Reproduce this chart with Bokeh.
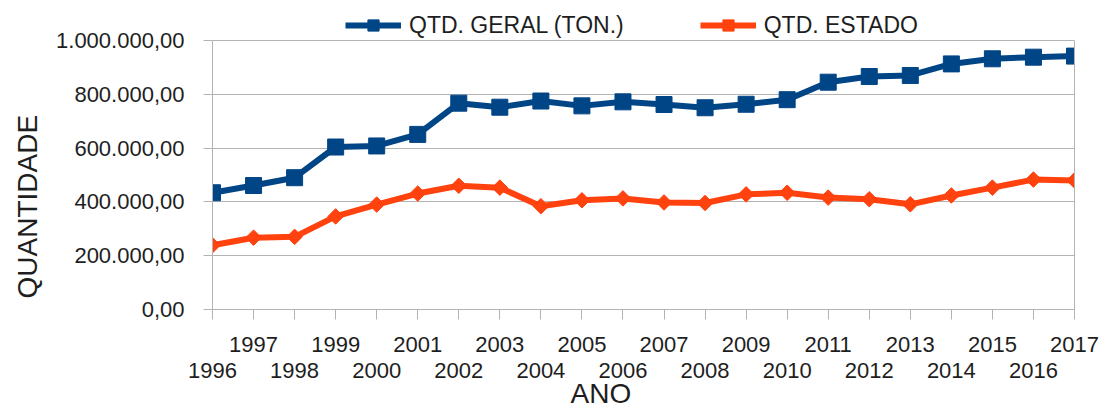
import math
from bokeh.plotting import figure
from bokeh.models import (Range1d, FixedTicker, LinearAxis, Legend, LegendItem,
                          Title)
from bokeh.embed import file_html
from bokeh.resources import INLINE

# ---- data ----
years = [1996, 1997, 1998, 1999, 2000, 2001, 2002, 2003, 2004, 2005, 2006,
         2007, 2008, 2009, 2010, 2011, 2012, 2013, 2014, 2015, 2016, 2017]
geral = [434000, 461000, 490000, 604000, 608000, 651000, 767000, 752000,
         775000, 757000, 772000, 762000, 750000, 763000, 780000, 845000,
         866000, 870000, 913000, 932000, 938000, 942000]
estado = [239000, 267000, 270000, 346000, 390000, 431000, 460000, 453000,
          384000, 406000, 413000, 398000, 396000, 428000, 434000, 416000,
          410000, 391000, 424000, 453000, 483000, 480000]
series_names = ["QTD. GERAL (TON.)", "QTD. ESTADO"]
odd_years = [1997, 1999, 2001, 2003, 2005, 2007, 2009, 2011, 2013, 2015, 2017]
even_years = [1996, 1998, 2000, 2002, 2004, 2006, 2008, 2010, 2012, 2014, 2016]
y_ticks = [0, 200000, 400000, 600000, 800000, 1000000]
y_tick_labels = ["0,00", "200.000,00", "400.000,00", "600.000,00",
                 "800.000,00", "1.000.000,00"]
x_title = "ANO"
y_title = "QUANTIDADE"

# ---- style / layout ----
FONT = "Liberation Sans"
GRID = "#b3b3b3"
TEXT = "#1e1e1e"
BLUE = "#004586"
ORANGE = "#ff420e"
W, H = 1104, 407
FRAME_LEFT, FRAME_RIGHT_BORDER, BOTTOM_BORDER = 211, 30, 98
TOP_PX = 40                      # pixel row of the top gridline
frame_h = H - BOTTOM_BORDER      # frame spans whole height above the x axis
y_top = y_ticks[-1] * frame_h / (frame_h - TOP_PX)   # room for the legend

p = figure(width=W, height=H, output_backend="svg", toolbar_location=None,
           x_range=Range1d(years[0], years[-1]), y_range=Range1d(y_ticks[0], y_top),
           min_border_left=FRAME_LEFT, min_border_right=FRAME_RIGHT_BORDER,
           min_border_top=0, min_border_bottom=BOTTOM_BORDER)
p.background_fill_color = "white"
p.border_fill_color = "white"
p.outline_line_color = None

# x axis 1: all ticks, odd-year labels
ax1 = p.xaxis[0]
ax1.ticker = FixedTicker(ticks=years)
ax1.major_label_overrides = {y: (str(y) if y in odd_years else "") for y in years}
ax1.axis_line_color = GRID
ax1.major_tick_line_color = GRID
ax1.major_tick_out = 10
ax1.major_tick_in = 0
ax1.minor_tick_line_color = None
ax1.major_label_standoff = 17
ax1.major_label_text_font = FONT
ax1.major_label_text_font_size = "22px"
ax1.major_label_text_color = TEXT

# x axis 2: even-year labels on second row
ax2 = LinearAxis(ticker=FixedTicker(ticks=even_years),
                 major_label_overrides={y: str(y) for y in even_years})
ax2.axis_line_color = None
ax2.major_tick_line_color = None
ax2.major_tick_out = 0
ax2.major_tick_in = 0
ax2.minor_tick_line_color = None
ax2.major_label_standoff = 8
ax2.major_label_text_font = FONT
ax2.major_label_text_font_size = "22px"
ax2.major_label_text_color = TEXT
p.add_layout(ax2, "below")

# y axis
ya = p.yaxis[0]
ya.ticker = FixedTicker(ticks=y_ticks)
ya.major_label_overrides = dict(zip(y_ticks, y_tick_labels))
ya.bounds = (y_ticks[0], y_ticks[-1])
ya.axis_line_color = GRID
ya.major_tick_line_color = GRID
ya.major_tick_out = 9
ya.major_tick_in = 0
ya.minor_tick_line_color = None
ya.major_label_standoff = 19
ya.major_label_text_font = FONT
ya.major_label_text_font_size = "22px"
ya.major_label_text_color = TEXT

# right border line of the chart area
ra = LinearAxis(ticker=FixedTicker(ticks=[]), bounds=(y_ticks[0], y_ticks[-1]))
ra.axis_line_color = GRID
ra.major_tick_line_color = None
ra.minor_tick_line_color = None
ra.major_label_text_font_size = "0px"
p.add_layout(ra, "right")

p.xgrid.visible = False
p.ygrid.grid_line_color = GRID
p.ygrid.grid_line_width = 1

# series
l1 = p.line(years, geral, line_color=BLUE, line_width=6, line_join="round")
m1 = p.scatter(years, geral, marker="square", size=16, fill_color=BLUE, line_color=BLUE)
l2 = p.line(years, estado, line_color=ORANGE, line_width=6, line_join="round")
m2 = p.scatter(years, estado, marker="square", angle=math.pi / 4, size=11,
               fill_color=ORANGE, line_color=ORANGE)

legend = Legend(items=[LegendItem(label=series_names[0], renderers=[l1, m1]),
                       LegendItem(label=series_names[1], renderers=[l2, m2])],
                orientation="horizontal", location=(133, frame_h - 39),
                glyph_width=56, glyph_height=28, label_standoff=8, spacing=76,
                padding=0, margin=0, border_line_color=None,
                background_fill_alpha=0,
                label_text_font=FONT, label_text_font_size="23px",
                label_text_color=TEXT)
p.add_layout(legend, "center")

# axis titles
t_x = Title(text=x_title, align="left", offset=358, vertical_align="top",
            standoff=-6, text_font=FONT, text_font_size="28px",
            text_font_style="normal", text_color=TEXT)
p.add_layout(t_x, "below")
t_y = Title(text=y_title, align="left", offset=11, vertical_align="middle",
            standoff=20, text_font=FONT, text_font_size="28px",
            text_font_style="normal", text_color=TEXT)
p.add_layout(t_y, "left")

open("out.html", "w").write(file_html(p, INLINE))
